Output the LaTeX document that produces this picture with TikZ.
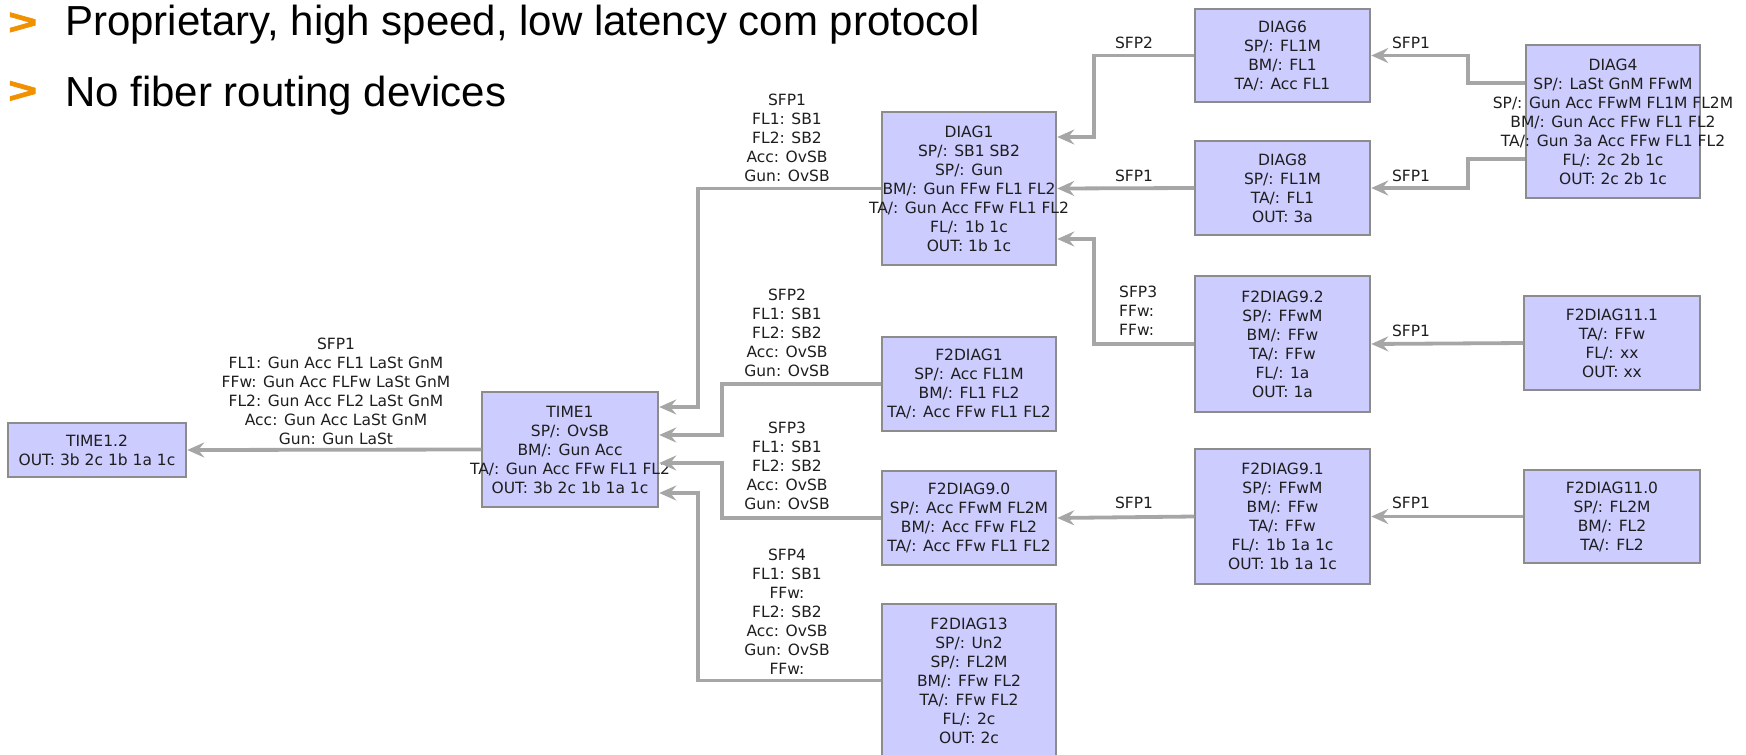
\documentclass[tikz,border=0pt]{standalone}
\usepackage{fontspec}
\setmainfont{DejaVu Sans}
\newfontfamily\headfont{Liberation Sans}
\newfontfamily\markfont{Liberation Sans}[BoldFeatures={FakeBold=2}]
\usetikzlibrary{arrows.meta}

\definecolor{boxfill}{HTML}{CCCCFF}
\definecolor{boxline}{HTML}{8C8C8C}
\definecolor{wire}{HTML}{A6A6A6}
\definecolor{bulletorange}{HTML}{F29100}
\definecolor{ink}{HTML}{1E1E1E}

% a device box: name, centre x, centre y, width, height, text lines
\newcommand\unitbox[6]{%
  \node[unit, minimum width=#4pt, minimum height=#5pt] (#1) at (#2,#3) {};
  \node[unittext] (#1-txt) at (#1.center) {#6};}

\begin{document}
\begin{tikzpicture}[x=1pt, y=-1pt,
  unit/.style={draw=boxline, fill=boxfill, line width=1.5pt, inner sep=0pt},
  unittext/.style={align=center, font=\fontsize{15.5}{19}\selectfont, text=ink, inner sep=0pt},
  tag/.style={align=center, font=\fontsize{15.5}{19}\selectfont, text=ink, inner sep=0pt},
  link/.style={draw=wire, line width=3.8pt, -{Stealth[length=17pt,width=15pt,inset=6pt]}, shorten >=0.5pt},
  headline/.style={anchor=base west, font=\headfont\fontsize{42}{50}\selectfont, text=black, inner sep=0pt},
  headmark/.style={anchor=west, font=\markfont\bfseries\fontsize{38}{46}\selectfont, text=bulletorange, inner sep=0pt},
]
\useasboundingbox (0,0) rectangle (1746,755);
\clip (0,0) rectangle (1746,755);

% header bullets
\node[headmark] (mark1) at (8,23.5) {\scalebox{1.3}[0.95]{>}};
\node[headline] (head1) at (65,35) {Proprietary, high speed, low latency com protocol};
\node[headmark] (mark2) at (8,92) {\scalebox{1.3}[0.95]{>}};
\node[headline] (head2) at (65,106) {No fiber routing devices};

% devices
\unitbox{time12}{97}{450}{178}{54}{TIME1.2\\OUT: 3b 2c 1b 1a 1c}
\unitbox{time1}{570}{449.5}{176}{115}{TIME1\\SP/: OvSB\\BM/: Gun Acc\\TA/: Gun Acc FFw FL1 FL2\\OUT: 3b 2c 1b 1a 1c}
\unitbox{diag1}{969}{188.5}{174}{153}{DIAG1\\SP/: SB1 SB2\\SP/: Gun\\BM/: Gun FFw FL1 FL2\\TA/: Gun Acc FFw FL1 FL2\\FL/: 1b 1c\\OUT: 1b 1c}
\unitbox{f2d1}{969}{384}{174}{94}{F2DIAG1\\SP/: Acc FL1M\\BM/: FL1 FL2\\TA/: Acc FFw FL1 FL2}
\unitbox{f2d90}{969}{518}{174}{94}{F2DIAG9.0\\SP/: Acc FFwM FL2M\\BM/: Acc FFw FL2\\TA/: Acc FFw FL1 FL2}
\unitbox{f2d13}{969}{680.5}{174}{153}{F2DIAG13\\SP/: Un2\\SP/: FL2M\\BM/: FFw FL2\\TA/: FFw FL2\\FL/: 2c\\OUT: 2c}
\unitbox{diag6}{1282.5}{55.5}{175}{93}{DIAG6\\SP/: FL1M\\BM/: FL1\\TA/: Acc FL1}
\unitbox{diag8}{1282.5}{188}{175}{94}{DIAG8\\SP/: FL1M\\TA/: FL1\\OUT: 3a}
\unitbox{f2d92}{1282.5}{344}{175}{136}{F2DIAG9.2\\SP/: FFwM\\BM/: FFw\\TA/: FFw\\FL/: 1a\\OUT: 1a}
\unitbox{f2d91}{1282.5}{516.5}{175}{135}{F2DIAG9.1\\SP/: FFwM\\BM/: FFw\\TA/: FFw\\FL/: 1b 1a 1c\\OUT: 1b 1a 1c}
\unitbox{diag4}{1613}{121.5}{174}{153}{DIAG4\\SP/: LaSt GnM FFwM\\SP/: Gun Acc FFwM FL1M FL2M\\BM/: Gun Acc FFw FL1 FL2\\TA/: Gun 3a Acc FFw FL1 FL2\\FL/: 2c 2b 1c\\OUT: 2c 2b 1c}
\unitbox{f2d111}{1612}{343}{176}{94}{F2DIAG11.1\\TA/: FFw\\FL/: xx\\OUT: xx}
\unitbox{f2d110}{1612}{516.5}{176}{93}{F2DIAG11.0\\SP/: FL2M\\BM/: FL2\\TA/: FL2}

% ports and bus lines
\coordinate (t1a) at ([yshift=42.5pt]time1.east);
\coordinate (t1b) at ([yshift=14.5pt]time1.east);
\coordinate (t1c) at ([yshift=-13.5pt]time1.east);
\coordinate (t1d) at ([yshift=-43.5pt]time1.east);
\coordinate (d1a) at ([yshift=51.5pt]diag1.east);
\coordinate (d1c) at ([yshift=-50.5pt]diag1.east);
\coordinate (d4a) at ([yshift=38.5pt]diag4.west);
\coordinate (d4b) at ([yshift=-37.5pt]diag4.west);
\coordinate (busA) at (698,0);
\coordinate (busB) at (722,0);
\coordinate (busC) at (1094,0);
\coordinate (busD) at (1468,0);

% connectors
\draw[link] (time1.west) -- (time12.east);
\draw[link] (diag1.west) -| (busA |- t1a) -- (t1a);
\draw[link] (f2d1.west) -| (busB |- t1b) -- (t1b);
\draw[link] (f2d90.west) -| (busB |- t1c) -- (t1c);
\draw[link] (f2d13.west) -| (busA |- t1d) -- (t1d);
\draw[link] (diag6.west) -| (busC |- d1a) -- (d1a);
\draw[link] (diag8.west) -- (diag1.east);
\draw[link] (f2d92.west) -| (busC |- d1c) -- (d1c);
\draw[link] (f2d91.west) -- (f2d90.east);
\draw[link] (d4a) -| (busD |- diag6.east) -- (diag6.east);
\draw[link] (d4b) -| (busD |- diag8.east) -- (diag8.east);
\draw[link] (f2d111.west) -- (f2d92.east);
\draw[link] (f2d110.west) -- (f2d91.east);

% connector labels
\node[tag] (lab1) at (336,391.5) {SFP1\\FL1: Gun Acc FL1 LaSt GnM\\FFw: Gun Acc FLFw LaSt GnM\\FL2: Gun Acc FL2 LaSt GnM\\Acc: Gun Acc LaSt GnM\\Gun: Gun LaSt};
\node[tag] (lab2) at (787,138) {SFP1\\FL1: SB1\\FL2: SB2\\Acc: OvSB\\Gun: OvSB};
\node[tag] (lab3) at (787,332.5) {SFP2\\FL1: SB1\\FL2: SB2\\Acc: OvSB\\Gun: OvSB};
\node[tag] (lab4) at (787,466) {SFP3\\FL1: SB1\\FL2: SB2\\Acc: OvSB\\Gun: OvSB};
\node[tag] (lab5) at (787,611.5) {SFP4\\FL1: SB1\\FFw:\\FL2: SB2\\Acc: OvSB\\Gun: OvSB\\FFw:};
\node[tag] (lab6) at (1134,43) {SFP2};
\node[tag] (lab7) at (1134,176) {SFP1};
\node[tag, align=left, anchor=west] (lab8) at (1119,311) {SFP3\\FFw:\\FFw:};
\node[tag] (lab9) at (1134,503) {SFP1};
\node[tag] (lab10) at (1411,43) {SFP1};
\node[tag] (lab11) at (1411,176) {SFP1};
\node[tag] (lab12) at (1411,331) {SFP1};
\node[tag] (lab13) at (1411,503) {SFP1};
\end{tikzpicture}
\end{document}
